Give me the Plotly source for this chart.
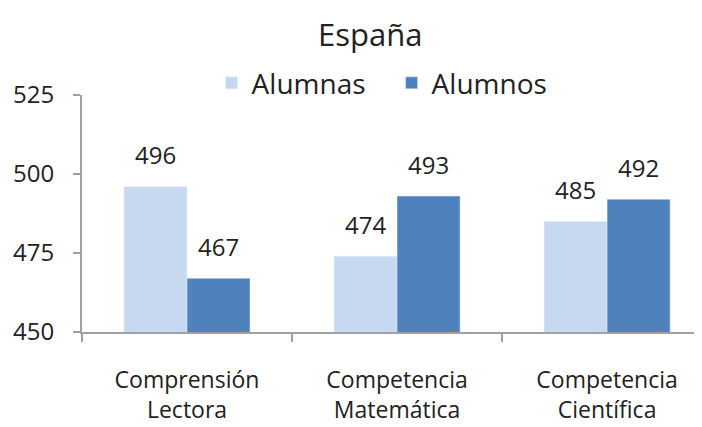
import plotly.graph_objects as go

categories = ["Comprensión<br>Lectora", "Competencia<br>Matemática", "Competencia<br>Científica"]
alumnas = [496, 474, 485]
alumnos = [467, 493, 492]
y_ticks = [450, 475, 500, 525]

FONT = "Open Sans"
TXT = "#222222"
AX = "#A0A0A0"
light = "#C6D9F1"
dark = "#4F81BD"

fig = go.Figure()
fig.add_trace(go.Bar(x=[0, 1, 2], y=alumnas, name="Alumnas", marker_color=light))
fig.add_trace(go.Bar(x=[0, 1, 2], y=alumnos, name="Alumnos", marker_color=dark))

shift = 31.5
for i, v in enumerate(alumnas):
    fig.add_annotation(x=i, y=v, text=str(v), showarrow=False, xshift=-shift, yshift=32,
                       yanchor="middle", font=dict(family=FONT, size=24, color=TXT))
for i, v in enumerate(alumnos):
    fig.add_annotation(x=i, y=v, text=str(v), showarrow=False, xshift=shift, yshift=32,
                       yanchor="middle", font=dict(family=FONT, size=24, color=TXT))

fig.update_layout(
    width=702, height=427,
    margin=dict(l=74, r=0, t=87, b=103),
    paper_bgcolor="white", plot_bgcolor="white",
    barmode="group", bargap=0.4, bargroupgap=0,
    font=dict(family=FONT, size=24, color=TXT),
    title=dict(text="España", xref="container", x=0.516, xanchor="center",
               yref="container", y=0.937, yanchor="middle",
               font=dict(family=FONT, size=31, color=TXT)),
    legend=dict(orientation="h", x=0.493, xanchor="center", y=1.05, yanchor="middle",
                font=dict(family=FONT, size=28, color=TXT),
                itemwidth=30, entrywidth=135, entrywidthmode="pixels",
                traceorder="normal", bgcolor="rgba(0,0,0,0)"),
    showlegend=True,
)
fig.update_xaxes(
    tickmode="array", tickvals=[0, 1, 2], ticktext=categories,
    range=[-0.5, 2.49], showline=True, linecolor=AX, linewidth=2,
    ticks="", showgrid=False, zeroline=False, ticklabelstandoff=26,
    tickfont=dict(family=FONT, size=23, color=TXT),
)
fig.update_xaxes(minor=dict(tickmode="array", tickvals=[-0.5, 0.5, 1.5], ticks="outside",
                            ticklen=8, tickcolor=AX, tickwidth=2, showgrid=False))
fig.update_yaxes(
    range=[450, 525], tickmode="array", tickvals=y_ticks,
    showline=True, linecolor=AX, linewidth=2,
    ticks="outside", ticklen=7, tickcolor=AX, tickwidth=2,
    showgrid=False, zeroline=False, ticklabelstandoff=14,
    tickfont=dict(family=FONT, size=24, color=TXT),
)

fig.write_html("out.html")
